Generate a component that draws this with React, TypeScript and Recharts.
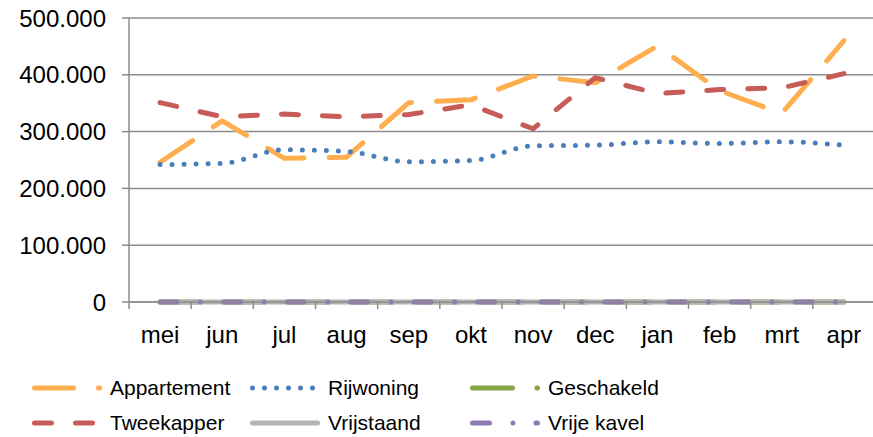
import React from "react"
import { LineChart, Line, XAxis, YAxis, CartesianGrid } from "recharts"

const months = ["mei", "jun", "jul", "aug", "sep", "okt", "nov", "dec", "jan", "feb", "mrt", "apr"]

const appartement = [246, 319, 253, 255, 351, 356, 398, 386, 451, 372, 332, 460]
const rijwoning = [242, 244, 268, 265, 247, 249, 275, 276, 282, 279, 282, 276]
const geschakeld = [0, 0, 0, 0, 0, 0, 0, 0, 0, 0, 0, 0]
const tweekapper = [351, 326, 331, 326, 330, 347, 305, 395, 367, 374, 377, 402]
const vrijstaand = [0, 0, 0, 0, 0, 0, 0, 0, 0, 0, 0, 0]
const vrijeKavel = [0, 0, 0, 0, 0, 0, 0, 0, 0, 0, 0, 0]

const yTicks = [0, 100000, 200000, 300000, 400000, 500000]

const data = months.map((m, i) => ({
  month: m,
  appartement: appartement[i] * 1000,
  rijwoning: rijwoning[i] * 1000,
  geschakeld: geschakeld[i] * 1000,
  tweekapper: tweekapper[i] * 1000,
  vrijstaand: vrijstaand[i] * 1000,
  vrijeKavel: vrijeKavel[i] * 1000,
}))

// draw order follows the legend order (row by row)
const series = [
  { key: "appartement", name: "Appartement", color: "#FFAE4F", dash: "39 25", type: "linear" },
  { key: "rijwoning", name: "Rijwoning", color: "#4A7EBB", dash: "0 12", type: "monotone" },
  { key: "geschakeld", name: "Geschakeld", color: "#86A545", dash: "40 24.5", type: "linear" },
  { key: "tweekapper", name: "Tweekapper", color: "#C65B58", dash: "17 24", type: "linear" },
  { key: "vrijstaand", name: "Vrijstaand", color: "#B4B4B4", dash: undefined, type: "linear" },
  { key: "vrijeKavel", name: "Vrije kavel", color: "#8E7AB5", dash: "17 23.5 0 23", type: "linear" },
]

const FONT = "'Liberation Sans', Arial, Helvetica, sans-serif"
const GRID = "#8c8c8c"
const CHART_W = 876
const PLOT_LEFT = 129
const PLOT_RIGHT_MARGIN = 1
const STEP = (CHART_W - PLOT_LEFT - PLOT_RIGHT_MARGIN) / months.length

const formatThousands = (v: number) =>
  String(v).replace(/\B(?=(\d{3})+(?!\d))/g, ".")

function MonthTick(props: any) {
  const { x, y, payload } = props
  return (
    <g>
      <line x1={x - STEP / 2} x2={x - STEP / 2} y1={y} y2={y + 7} stroke={GRID} strokeWidth={1.5} />
      <text x={x} y={y + 41} textAnchor="middle" fontSize={24} fill="#000" fontFamily={FONT}>
        {payload.value}
      </text>
    </g>
  )
}

function LegendIcon({ s }: { s: (typeof series)[number] }) {
  return (
    <svg width={72} height={10} style={{ display: "block" }}>
      <line
        x1={2.5}
        x2={67.5}
        y1={5}
        y2={5}
        stroke={s.color}
        strokeWidth={5}
        strokeLinecap="round"
        strokeDasharray={s.dash}
      />
    </svg>
  )
}

function ChartLegend() {
  const cols = [32, 250, 470]
  const rows = [376, 411]
  return (
    <>
      {series.map((s, i) => {
        const left = cols[i % 3]
        const top = rows[Math.floor(i / 3)]
        return (
          <div
            key={s.key}
            style={{
              position: "absolute",
              left,
              top,
              height: 24,
              display: "flex",
              alignItems: "center",
              fontSize: 21,
              lineHeight: "24px",
              color: "#000",
              fontFamily: FONT,
              whiteSpace: "nowrap",
            }}
          >
            <LegendIcon s={s} />
            <span style={{ marginLeft: 6 }}>{s.name}</span>
          </div>
        )
      })}
    </>
  )
}

export default function App() {
  return (
    <div
      style={{
        position: "absolute",
        left: 0,
        top: 0,
        width: 873,
        height: 437,
        overflow: "hidden",
        background: "#fff",
        fontFamily: FONT,
      }}
    >
      <LineChart
        width={CHART_W}
        height={437}
        data={data}
        margin={{ top: 18, right: PLOT_RIGHT_MARGIN, left: 0, bottom: 95 }}
      >
        <CartesianGrid vertical={false} stroke={GRID} strokeWidth={1.5} />
        <XAxis
          dataKey="month"
          height={40}
          interval={0}
          padding={{ left: STEP / 2, right: STEP / 2 }}
          tickLine={false}
          tickSize={0}
          tickMargin={0}
          axisLine={{ stroke: GRID, strokeWidth: 1.5 }}
          tick={<MonthTick />}
        />
        <YAxis
          width={PLOT_LEFT}
          domain={[0, 500000]}
          ticks={yTicks}
          interval={0}
          tickFormatter={formatThousands}
          tickSize={7}
          tickMargin={16}
          tickLine={{ stroke: GRID, strokeWidth: 1.5 }}
          axisLine={{ stroke: GRID, strokeWidth: 1.5 }}
          tick={{ fontSize: 24, fill: "#000", fontFamily: FONT }}
        />
        {series.map((s) => (
          <Line
            key={s.key}
            dataKey={s.key}
            name={s.name}
            type={s.type as any}
            stroke={s.color}
            strokeWidth={5}
            strokeDasharray={s.dash}
            strokeLinecap="round"
            strokeLinejoin="round"
            dot={false}
            activeDot={false}
            isAnimationActive={false}
          />
        ))}
      </LineChart>
      <ChartLegend />
    </div>
  )
}
